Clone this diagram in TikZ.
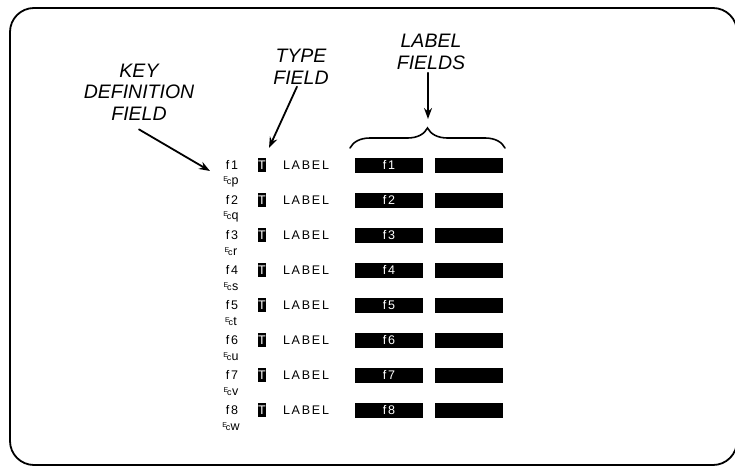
\documentclass[tikz,border=0pt]{standalone}
\usepackage{fontspec}
\setmainfont{Liberation Sans}
\newfontfamily\crtfont{Liberation Sans}[LetterSpace=14]
\usetikzlibrary{arrows.meta,decorations.pathreplacing}
\newcommand{\escglyph}{\raisebox{3pt}{\fontsize{7}{7}\selectfont E}\kern-1.2pt{\fontsize{9}{9}\selectfont c}\kern0.4pt}
\tikzset{
  heading/.style={font=\fontsize{19.5}{21.5}\selectfont\itshape,align=center,inner sep=0pt},
  crt/.style={font=\fontsize{12.5}{12.5}\selectfont\crtfont,inner sep=0pt},
  typebox/.style={crt,fill=black,text=white,minimum width=8pt,minimum height=14pt},
  fieldbar/.style={crt,fill=black,text=white,minimum width=68pt,minimum height=15pt},
  pointer/.style={->,line width=1.8pt},
}
\begin{document}
\begin{tikzpicture}[x=1pt,y=-1pt,>={Stealth[length=11pt,width=8pt]},line cap=round]
\useasboundingbox (0,0) rectangle (735,468);
\draw[line width=1.8pt,rounded corners=24pt] (10,8) rectangle (737,465);
\node[heading] (keyhead) at (139,92) {KEY\\DEFINITION\\FIELD};
\node[heading] (typehead) at (301,67) {TYPE\\FIELD};
\node[heading] (labhead) at (431,52) {LABEL\\FIELDS};
\foreach \i/\e in {1/p,2/q,3/r,4/s,5/t,6/u,7/v,8/w}{
  \pgfmathsetmacro\ry{165+35*(\i-1)}
  \node[crt] (key\i) at (232,\ry) {f\i};
  \node[crt] (esc\i) at (231,\ry+17) {\escglyph\e};
  \node[typebox] (type\i) at (262,\ry) {T};
  \node[crt] (lbl\i) at (306,\ry) {LABEL};
  \node[fieldbar] (fa\i) at (389,\ry) {f\i};
  \node[fieldbar] (fb\i) at (469,\ry) {};
}
\coordinate (keytip) at (210,171);
\coordinate (typetip) at (269,148);
\coordinate (braceL) at (350,148);
\coordinate (braceR) at (505,148);
\coordinate (bracetip) at (428,119);
\draw[decorate,decoration={brace,amplitude=20pt},line width=1.6pt] (braceL) -- (braceR);
\draw[pointer] ([yshift=-9pt]keyhead.south) -- (keytip);
\draw[pointer] ([xshift=-4pt,yshift=-2pt]typehead.south) -- (typetip);
\draw[pointer] ([xshift=-3pt,yshift=-3pt]labhead.south) -- (bracetip);
\end{tikzpicture}
\end{document}
